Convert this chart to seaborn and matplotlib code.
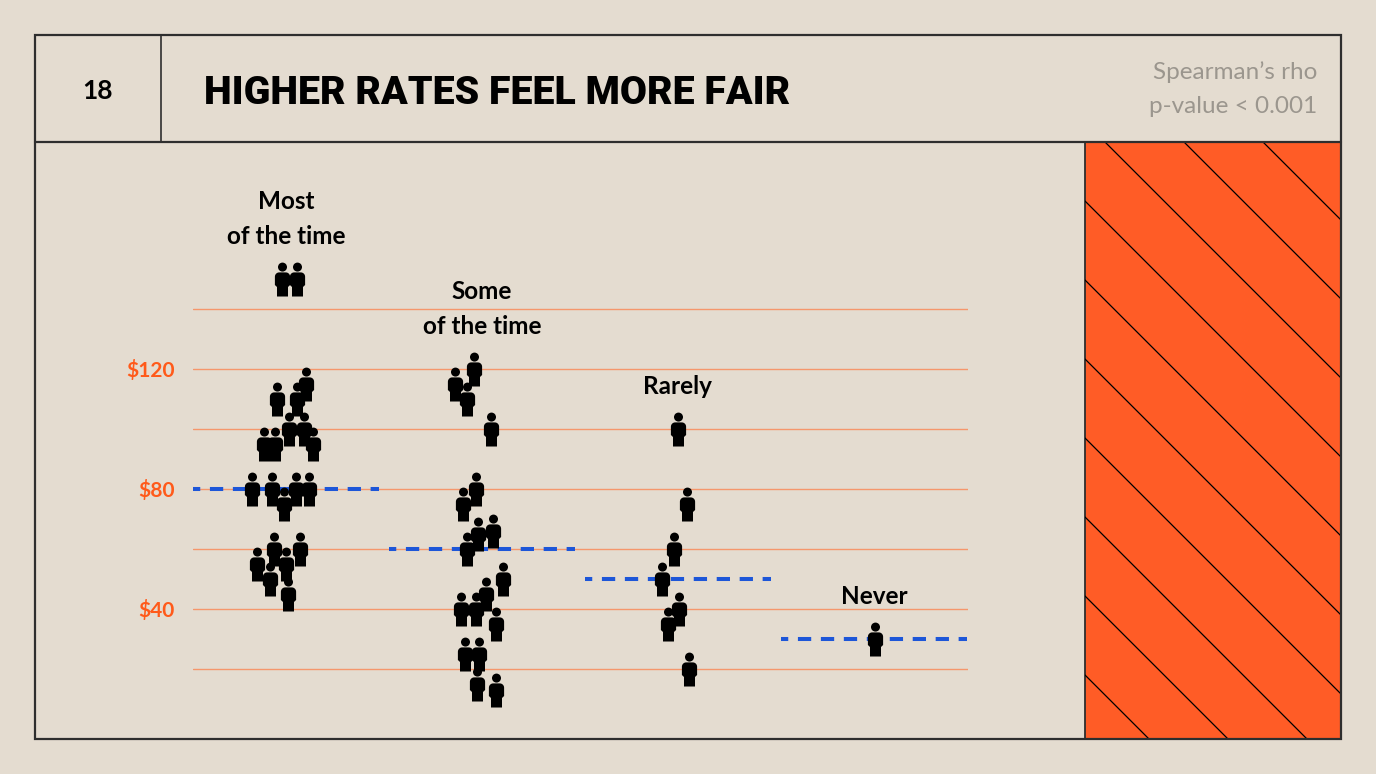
import numpy as np
import pandas as pd
import matplotlib
matplotlib.use("Agg")
import matplotlib.pyplot as plt
from matplotlib.path import Path
from matplotlib.markers import MarkerStyle
from matplotlib.patches import Rectangle
import seaborn as sns

# -------------------------
# Data
# -------------------------
categories = ["Most\nof the time", "Some\nof the time", "Rarely", "Never"]

most_rates = [150, 150, 115, 110, 110, 100, 100, 95, 95, 95, 80, 80, 80, 80, 75, 60, 60, 55, 55, 50, 45]
most_jitter = [-0.022, 0.055, 0.10, -0.044, 0.058, 0.017, 0.093, -0.112, -0.056, 0.139,
               -0.175, -0.073, 0.051, 0.119, -0.01, -0.061, 0.071, -0.15, 0.0, -0.082, 0.012]

some_rates = [120, 115, 110, 100, 80, 75, 66, 65, 60, 50, 45, 40, 40, 35, 25, 25, 15, 13]
some_jitter = [-0.041, -0.136, -0.075, 0.046, -0.032, -0.097, 0.055, -0.022, -0.075,
               0.109, 0.02, -0.109, -0.032, 0.071, -0.085, -0.014, -0.024, 0.07]

rarely_rates = [100, 75, 60, 50, 40, 35, 20]
rarely_jitter = [0.0, 0.047, -0.02, -0.08, 0.005, -0.053, 0.058]

never_rates = [30]
never_jitter = [0.007]

medians = [80, 60, 50, 30]

grid_values = [20, 40, 60, 80, 100, 120, 140]
tick_labels = ["", "$40", "", "$80", "", "$120", ""]

title = "HIGHER RATES FEEL MORE FAIR"
slide_number = "18"
note_lines = ["Spearman\u2019s rho", "p-value < 0.001"]

# -------------------------
# Colours
# -------------------------
BG = "#e4dcd0"
ORANGE = "#ff5c26"
TICK_ORANGE = "#ff5a1a"
GRID = "#f5976c"
BLUE = "#1d56d8"
FRAME = "#2e2e2e"
GREY = "#9b968e"

# -------------------------
# Build table
# -------------------------
groups = [(most_rates, most_jitter), (some_rates, some_jitter),
          (rarely_rates, rarely_jitter), (never_rates, never_jitter)]
rows = []
for i, (rates, jit) in enumerate(groups):
    for r, j in zip(rates, jit):
        rows.append({"category": categories[i], "pos": i + j, "rate": r})
df = pd.DataFrame(rows)


# person icon marker (origin = icon centre)
def person_marker():
    head = Path.circle((0, 12.4), 4.5)
    t = np.linspace(0, np.pi / 2, 10)
    right = np.column_stack([3.3 + 4.3 * np.cos(t), 2.8 + 4.3 * np.sin(t)])
    left = np.column_stack([-3.3 + 4.3 * np.cos(t + np.pi / 2), 2.8 + 4.3 * np.sin(t + np.pi / 2)])
    pts = [(-5.5, -17), (5.5, -17), (5.5, -7.5), (7.6, -5.5)]
    pts += [tuple(p) for p in right]
    pts += [tuple(p) for p in left]
    pts += [(-7.6, -5.5), (-5.5, -7.5), (-5.5, -17)]
    codes = [Path.MOVETO] + [Path.LINETO] * (len(pts) - 2) + [Path.CLOSEPOLY]
    body = Path(pts, codes)
    return Path.make_compound_path(head, body)


person = MarkerStyle(person_marker())

# -------------------------
# Figure
# -------------------------
sns.set_theme(style="white")
plt.rcParams["font.family"] = ["Lato", "DejaVu Sans"]

W, H = 1376, 774
fig = plt.figure(figsize=(W / 100, H / 100), dpi=100, facecolor=BG)

# slide frame (pixel coordinates)
bg = fig.add_axes([0, 0, 1, 1], zorder=0)
bg.set_xlim(0, W)
bg.set_ylim(H, 0)
bg.axis("off")
bg.set_facecolor(BG)

panel = Rectangle((1085, 142), 256, 597, facecolor=ORANGE, edgecolor=FRAME, lw=1.3, zorder=1)
bg.add_patch(panel)
xs = np.array([1085, 1341])
for c in range(-20 - 79 * 8, 600, 79):
    ln, = bg.plot(xs, 142 + c + (xs - 1085), color="black", lw=0.9, zorder=2)
    ln.set_clip_path(panel)

bg.add_patch(Rectangle((35, 35), 1306, 704, fill=False, edgecolor=FRAME, lw=1.6, zorder=3))
bg.plot([35, 1341], [142, 142], color=FRAME, lw=1.6, zorder=3)
bg.plot([161, 161], [35, 142], color=FRAME, lw=1.2, zorder=3)

bg.text(98, 99, slide_number, ha="center", va="baseline", fontsize=19, fontweight="bold", color="black")
bg.text(204, 104, title, ha="left", va="baseline", fontsize=28.3, fontweight="black",
        family=["Roboto", "DejaVu Sans"], color="black")
bg.text(1317, 79, note_lines[0], ha="right", va="baseline", fontsize=17.5, fontweight="normal", color=GREY)
bg.text(1317, 113, note_lines[1], ha="right", va="baseline", fontsize=17.5, fontweight="normal", color=GREY)

# main chart
ax = fig.add_axes([193 / W, 1 - 714 / H, 775 / W, 465 / H], zorder=2)
ax.set_facecolor("none")

ax.set_yticks(grid_values)
ax.set_yticklabels(tick_labels)
ax.yaxis.grid(True, color=GRID, lw=1.0)
ax.set_axisbelow(True)

ax.hlines(medians, xmin=[i - 0.474 for i in range(4)], xmax=[i + 0.474 for i in range(4)],
          colors=BLUE, lw=2.9, linestyles=[(1.5, (3.3, 2.4))], zorder=2)

sns.scatterplot(data=df, x="pos", y="rate", marker=person, s=600, color="black",
                linewidth=0, legend=False, ax=ax, zorder=3)

for i, cat in enumerate(categories):
    top = df.loc[df["category"] == cat, "rate"].max()
    ax.text(i, top + 10.5, cat, ha="center", va="bottom", fontsize=17.5,
            fontweight="bold", linespacing=1.6, color="black")

ax.set_xlim(-0.474, 3.48)
ax.set_ylim(5, 160)
ax.set_xticks([])
ax.set_xlabel("")
ax.set_ylabel("")
ax.tick_params(axis="y", length=0, pad=13, labelsize=15, labelcolor=TICK_ORANGE)
for lab in ax.get_yticklabels():
    lab.set_fontweight("bold")
sns.despine(ax=ax, left=True, bottom=True)

fig.savefig("out.png", dpi=100, facecolor=BG)
